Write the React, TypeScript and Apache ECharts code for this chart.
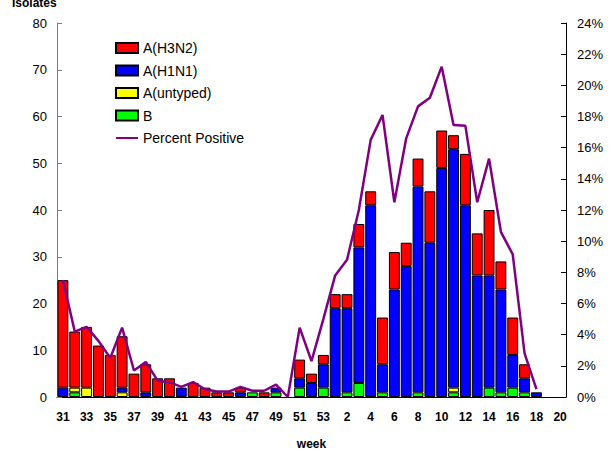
import React, { useEffect, useRef } from "react";
import * as echarts from "echarts";

const weeks: string[] = [
  "31", "32", "33", "34", "35", "36", "37", "38", "39", "40", "41", "42", "43", "44", "45", "46", "47", "48", "49", "50", "51", "52", "53",
  "1", "2", "3", "4", "5", "6", "7", "8", "9", "10", "11", "12", "13", "14", "15", "16", "17", "18", "19", "20",
];

const h3n2: number[] = [
  23, 12, 13, 11, 9, 11, 5, 6, 4, 4, 0, 3, 2, 1, 1, 1, 0, 1, 0, 0, 4, 2, 2,
  3, 3, 5, 3, 10, 8, 5, 6, 11, 8, 3, 11, 9, 14, 6, 8, 3, 0, 0, 0,
];

const h1n1: number[] = [
  2, 0, 0, 0, 0, 1, 0, 1, 0, 0, 2, 0, 0, 0, 0, 1, 0, 0, 1, 0, 2, 3, 5,
  19, 18, 29, 41, 6, 23, 28, 44, 33, 49, 51, 41, 26, 24, 22, 7, 3, 1, 0, 0,
];

const untyped: number[] = [
  0, 1, 2, 0, 0, 1, 0, 0, 0, 0, 0, 0, 0, 0, 0, 0, 0, 0, 0, 0, 0, 0, 0,
  0, 0, 0, 0, 0, 0, 0, 0, 0, 0, 1, 0, 0, 0, 0, 0, 0, 0, 0, 0,
];

const fluB: number[] = [
  0, 1, 0, 0, 0, 0, 0, 0, 0, 0, 0, 0, 0, 0, 0, 0, 1, 0, 1, 0, 2, 0, 2,
  0, 1, 3, 0, 1, 0, 0, 1, 0, 0, 1, 0, 0, 2, 1, 2, 1, 0, 0, 0,
];

const percentPositive: (number | null)[] = [
  7.5, 4.2, 4.5, 3.6, 2.5, 4.45, 1.7, 2.25, 1.05, 0.95, 0.65, 0.95, 0.5, 0.35, 0.35, 0.65, 0.4, 0.4, 0.8, 0, 4.45, 2.3, 5.0,
  7.8, 8.8, 12.0, 16.5, 18.1, 12.5, 16.6, 18.65, 19.2, 21.2, 17.45, 17.4, 12.5, 15.3, 10.6, 9.15, 2.8, 0.5, null, null,
];

const FONT = "'Liberation Sans', Arial, sans-serif";

export default function App() {
  const ref = useRef<HTMLDivElement>(null);

  useEffect(() => {
    if (!ref.current) return;
    const chart = echarts.init(ref.current, undefined, { renderer: "svg" });
    const nz = (arr: number[]) => arr.map((v) => (v === 0 ? null : v));
    const barStyle = (color: string) => ({
      color,
      borderColor: "#000",
      borderWidth: 1,
    });
    chart.setOption({
      animation: false,
      textStyle: { fontFamily: FONT },
      grid: { left: 57, right: 48, top: 23, bottom: 49, containLabel: false },
      legend: {
        orient: "vertical",
        left: 110,
        top: 36,
        itemWidth: 22,
        itemHeight: 10,
        itemGap: 8.5,
        symbolKeepAspect: true,
        textStyle: { fontSize: 14, color: "#000", fontFamily: FONT },
        data: [
          { name: "A(H3N2)", icon: "rect" },
          { name: "A(H1N1)", icon: "rect" },
          { name: "A(untyped)", icon: "rect" },
          { name: "B", icon: "rect" },
          { name: "Percent Positive", icon: "path://M0,0H22V2H0Z" },
        ],
      },
      graphic: [
        {
          type: "text",
          left: 12,
          top: -3,
          style: { text: "Isolates", font: `bold 12px ${FONT}`, fill: "#000" },
        },
      ],
      xAxis: {
        type: "category",
        data: weeks,
        name: "week",
        nameLocation: "middle",
        nameGap: 41,
        nameTextStyle: { fontWeight: "bold", fontSize: 12, color: "#000", fontFamily: FONT },
        axisLine: { lineStyle: { color: "#000", width: 1 } },
        axisTick: { inside: true, length: 4, interval: 1, lineStyle: { color: "#000" } },
        axisLabel: { interval: 1, fontWeight: "bold", fontSize: 12, color: "#000", margin: 14, fontFamily: FONT },
        splitLine: { show: false },
      },
      yAxis: [
        {
          type: "value",
          min: 0,
          max: 80,
          interval: 10,
          axisLine: { show: true, lineStyle: { color: "#808080", width: 1 } },
          axisTick: { show: true, inside: true, length: 5, lineStyle: { color: "#808080" } },
          axisLabel: { fontSize: 13, color: "#000", margin: 10, fontFamily: FONT },
          splitLine: { show: false },
        },
        {
          type: "value",
          min: 0,
          max: 24,
          interval: 2,
          position: "right",
          axisLine: { show: true, lineStyle: { color: "#000", width: 1 } },
          axisTick: { show: true, inside: true, length: 5, lineStyle: { color: "#000" } },
          axisLabel: { fontSize: 13, color: "#000", margin: 11, formatter: "{value}%", fontFamily: FONT },
          splitLine: { show: false },
        },
      ],
      series: [
        {
          name: "B",
          type: "bar",
          stack: "iso",
          data: nz(fluB),
          barCategoryGap: "8%",
          itemStyle: barStyle("#00FF00"),
        },
        {
          name: "A(untyped)",
          type: "bar",
          stack: "iso",
          data: nz(untyped),
          barCategoryGap: "8%",
          itemStyle: barStyle("#FFFF00"),
        },
        {
          name: "A(H1N1)",
          type: "bar",
          stack: "iso",
          data: nz(h1n1),
          barCategoryGap: "8%",
          itemStyle: barStyle("#0000FF"),
        },
        {
          name: "A(H3N2)",
          type: "bar",
          stack: "iso",
          data: nz(h3n2),
          barCategoryGap: "8%",
          itemStyle: barStyle("#FF0000"),
        },
        {
          name: "Percent Positive",
          type: "line",
          yAxisIndex: 1,
          data: percentPositive,
          symbol: "none",
          connectNulls: false,
          lineStyle: { color: "#800080", width: 2.5 },
          itemStyle: { color: "#800080" },
          z: 5,
        },
      ],
    });
    return () => chart.dispose();
  }, []);

  return (
    <div
      ref={ref}
      style={{ position: "fixed", left: 0, top: 0, width: 614, height: 455, background: "#fff" }}
    />
  );
}
